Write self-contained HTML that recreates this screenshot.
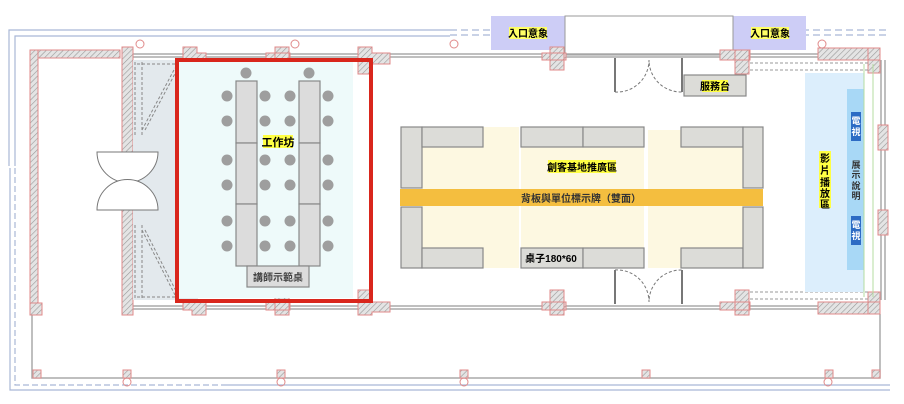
<!DOCTYPE html>
<html><head><meta charset="utf-8"><style>
html,body{margin:0;padding:0;background:#fff;width:904px;height:404px;overflow:hidden}
svg{display:block}
text{font-family:"Liberation Sans","Noto Sans CJK TC",sans-serif;font-weight:bold}
</style></head><body>
<svg width="904" height="404" viewBox="0 0 904 404" xmlns="http://www.w3.org/2000/svg">
<defs>
<pattern id="h" width="4" height="4" patternUnits="userSpaceOnUse" patternTransform="rotate(45)">
<rect width="4" height="4" fill="#e4e4e4"/><line x1="0" y1="0" x2="0" y2="4" stroke="#999" stroke-width="1.2"/></pattern>
</defs>
<g fill="none" stroke="#a9b7d6" stroke-width="1.2">
<path d="M9 166 V30 H450"/><path d="M15 166 V36 H450"/>
<path d="M10 168 V390 H223"/><path d="M15 168 V385 H223" stroke-dasharray="6 3"/>
<path d="M223 385 H890 M223 390 H890"/>
<path d="M450 30 H890 M450 35 H890" stroke-dasharray="7 4"/>
</g>
<rect x="491" y="16" width="74" height="34" fill="#cdcdf6"/>
<rect x="733" y="16" width="73" height="34" fill="#cdcdf6"/>
<rect x="565" y="16" width="168" height="39" fill="#fff" stroke="#999"/>
<rect x="509" y="27" width="38" height="12" fill="#ffff66"/><text x="528" y="37" font-size="10" text-anchor="middle">入口意象</text>
<rect x="751" y="27" width="38" height="12" fill="#ffff66"/><text x="770" y="37" font-size="10" text-anchor="middle">入口意象</text>
<g fill="none" stroke="#aaa" stroke-width="1.5">
<path d="M133 54 H880 M133 57 H880 M133 306 H880 M133 309 H880"/>
<path d="M881 60 V300 M885 60 V300"/>
<path d="M32 312 V378 H880 V314"/>
</g>
<g fill="url(#h)" stroke="#e08a8a" stroke-width="1">
<rect x="30" y="50" width="90" height="8"/>
<rect x="30" y="50" width="8" height="260"/>
<rect x="122" y="47" width="11" height="268"/>
<rect x="30" y="303" width="12" height="12"/>
<path d="M183 47h14v6h9v12h-14v9h-9z"/>
<path d="M266 53h24v7h-24z M275 47h14v23h-14z"/>
<path d="M358 47h14v6h18v11h-18v10h-14z"/>
<path d="M542 53h24v7h-24z M550 47h14v23h-14z"/>
<path d="M720 50h30v10h-30z M735 50h14v24h-14z"/>
<path d="M818 48h62v12h-62z M868 48h12v25h-12z"/>
<path d="M183 292h9v10h14v13h-14v-5h-9z"/>
<path d="M266 302h24v8h-24z M275 292h14v23h-14z"/>
<path d="M358 290h14v12h18v10h-18v3h-14z"/>
<path d="M542 302h24v8h-24z M550 290h14v25h-14z"/>
<path d="M720 302h30v8h-30z M735 290h14v25h-14z"/>
<path d="M818 302h62v12h-62z M868 292h12v22h-12z"/>
<path d="M878 125h10v25h-10z M878 210h10v25h-10z"/>
<rect x="33" y="370" width="8" height="8"/><rect x="123" y="370" width="8" height="8"/><rect x="277" y="370" width="8" height="8"/>
<rect x="460" y="370" width="8" height="8"/><rect x="642" y="370" width="8" height="8"/><rect x="825" y="370" width="8" height="8"/><rect x="872" y="370" width="8" height="8"/>
</g>
<g fill="none" stroke="#e08a8a"><circle cx="140" cy="44" r="4"/><circle cx="295" cy="44" r="4"/><circle cx="454" cy="44" r="4"/><circle cx="822" cy="44" r="4"/>
<circle cx="127" cy="382" r="4"/><circle cx="281" cy="382" r="4"/><circle cx="464" cy="382" r="4"/><circle cx="828" cy="382" r="4"/></g>
<rect x="133" y="60" width="65" height="240" fill="#e3e9ed"/>
<g fill="none" stroke="#888" stroke-dasharray="3 2"><path d="M135 62 V135 M142 62 V135 M135 225 V298 M142 225 V298 M137 64 H180 M137 297 H180 M142 130 L175 68 M145 130 L178 68 M142 230 L175 295 M145 230 L178 295"/></g>
<g fill="#fff" stroke="#777"><path d="M97 152 H158 A30 30 0 0 1 97 152 Z"/><path d="M97 210 H158 A30 30 0 0 0 97 210 Z"/></g>
<rect x="178" y="62" width="175" height="236" fill="#eefafa"/>
<g fill="#dcdcdc" stroke="#888" stroke-width="1.2">
<rect x="236" y="81" width="21" height="62"/><rect x="236" y="143" width="21" height="61"/><rect x="236" y="204" width="21" height="62"/>
<rect x="299" y="81" width="21" height="62"/><rect x="299" y="143" width="21" height="61"/><rect x="299" y="204" width="21" height="62"/>
<rect x="247" y="266" width="62" height="21"/></g>
<text x="278" y="281" font-size="10" text-anchor="middle" font-weight="normal" fill="#444">講師示範桌</text>
<g fill="#9e9e9e">
<circle cx="246" cy="73" r="5.5"/><circle cx="309" cy="73" r="5.5"/>
<circle cx="227" cy="96" r="5.5"/><circle cx="265" cy="96" r="5.5"/><circle cx="290" cy="96" r="5.5"/><circle cx="328" cy="96" r="5.5"/>
<circle cx="227" cy="121" r="5.5"/><circle cx="265" cy="121" r="5.5"/><circle cx="290" cy="121" r="5.5"/><circle cx="328" cy="121" r="5.5"/>
<circle cx="227" cy="160" r="5.5"/><circle cx="265" cy="160" r="5.5"/><circle cx="290" cy="160" r="5.5"/><circle cx="328" cy="160" r="5.5"/>
<circle cx="227" cy="185" r="5.5"/><circle cx="265" cy="185" r="5.5"/><circle cx="290" cy="185" r="5.5"/><circle cx="328" cy="185" r="5.5"/>
<circle cx="227" cy="221" r="5.5"/><circle cx="265" cy="221" r="5.5"/><circle cx="290" cy="221" r="5.5"/><circle cx="328" cy="221" r="5.5"/>
<circle cx="227" cy="246" r="5.5"/><circle cx="265" cy="246" r="5.5"/><circle cx="290" cy="246" r="5.5"/><circle cx="328" cy="246" r="5.5"/></g>
<rect x="263" y="135" width="30" height="13" fill="#ffff44"/><text x="278" y="146" font-size="11" text-anchor="middle">工作坊</text>
<rect x="177" y="60" width="194" height="241" fill="none" stroke="#d9261c" stroke-width="4"/>
<rect x="422" y="127" width="97" height="141" fill="#fdf8e1"/>
<rect x="521" y="147" width="123" height="101" fill="#fdf8e1"/>
<rect x="648" y="130" width="95" height="138" fill="#fdf8e1"/>
<g fill="#dcdcd8" stroke="#888" stroke-width="1.2">
<rect x="401" y="127" width="21" height="61"/><rect x="401" y="207" width="21" height="61"/>
<rect x="422" y="127" width="61" height="20"/><rect x="422" y="248" width="61" height="20"/>
<rect x="521" y="127" width="62" height="20"/><rect x="583" y="127" width="61" height="20"/>
<rect x="521" y="248" width="62" height="20"/><rect x="583" y="248" width="61" height="20"/>
<rect x="681" y="127" width="62" height="20"/><rect x="743" y="127" width="20" height="61"/>
<rect x="681" y="248" width="62" height="20"/><rect x="743" y="207" width="20" height="61"/>
<rect x="684" y="75" width="62" height="21"/></g>
<rect x="400" y="189" width="363" height="17" fill="#f4be3f"/>
<text x="581" y="202" font-size="10" text-anchor="middle" font-weight="normal" fill="#333">背板與單位標示牌（雙面）</text>
<rect x="548" y="160" width="68" height="13" fill="#ffff44"/><text x="582" y="171" font-size="10" text-anchor="middle">創客基地推廣區</text>
<text x="551" y="262" font-size="10" text-anchor="middle">桌子180*60</text>
<rect x="702" y="80" width="26" height="12" fill="#ffff44"/><text x="715" y="90" font-size="10" text-anchor="middle">服務台</text>
<g fill="none" stroke="#777" stroke-dasharray="3 2"><path d="M615 92 A32 32 0 0 0 649 60 A32 32 0 0 0 682 92"/><path d="M615 270 A32 32 0 0 1 649 302 A32 32 0 0 1 682 270"/></g>
<g stroke="#777" stroke-width="2"><path d="M615 58 V92 M682 58 V92 M615 270 V304 M682 270 V304"/></g>
<g fill="none" stroke="#999" stroke-dasharray="3 2"><path d="M750 63 H870 M750 70 H870 M750 292 H870 M750 299 H870"/></g>
<rect x="805" y="73" width="59" height="219" fill="#dceefc"/>
<rect x="847" y="89" width="17" height="181" fill="#a8d8f6"/>
<path d="M864 64 V297 M873 64 V297" stroke="#b5dca0" fill="none"/>
<rect x="851" y="112" width="10" height="29" fill="#2c6bc4"/><rect x="851" y="216" width="10" height="29" fill="#2c6bc4"/>
<text font-size="9" fill="#fff" font-weight="normal" text-anchor="middle"><tspan x="856" y="124">電</tspan><tspan x="856" y="135">視</tspan><tspan x="856" y="228">電</tspan><tspan x="856" y="239">視</tspan></text>
<text font-size="9" fill="#333" text-anchor="middle"><tspan x="856" y="168">展</tspan><tspan x="856" y="178">示</tspan><tspan x="856" y="189">說</tspan><tspan x="856" y="199">明</tspan></text>
<rect x="819" y="151" width="12" height="57" fill="#ffff44"/>
<text font-size="10" text-anchor="middle"><tspan x="825" y="162">影</tspan><tspan x="825" y="174">片</tspan><tspan x="825" y="186">播</tspan><tspan x="825" y="197">放</tspan><tspan x="825" y="208">區</tspan></text>
</svg>
</body></html>
